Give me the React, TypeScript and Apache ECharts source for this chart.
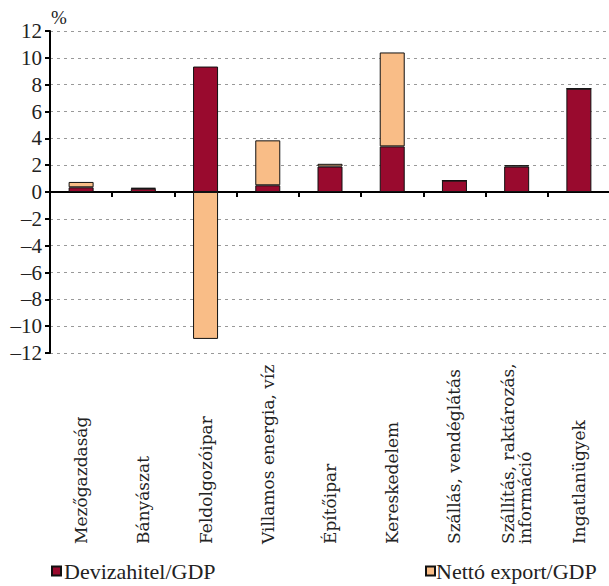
import React, { useEffect, useRef } from "react";
import * as echarts from "echarts";

const categories = [
  "Mezőgazdaság",
  "Bányászat",
  "Feldolgozóipar",
  "Villamos energia, víz",
  "Építőipar",
  "Kereskedelem",
  "Szállás, vendéglátás",
  "Szállítás, raktározás,\ninformáció",
  "Ingatlanügyek",
];
const devizahitel = [0.35, 0.25, 9.35, 0.5, 1.9, 3.4, 0.85, 1.9, 7.7];
const nettoExport = [0.4, 0.05, -10.95, 3.35, 0.2, 7.0, 0.0, 0.1, 0.0];
const yTicks = { min: -12, max: 12, interval: 2 };

const FONT = "'Liberation Serif', 'DejaVu Serif', serif";
const LABEL_FONT = "'DejaVu Serif', 'Liberation Serif', serif";
const DARK = "#990A2E";
const LIGHT = "#F9BD87";

export default function App() {
  const ref = useRef<HTMLDivElement>(null);
  useEffect(() => {
    if (!ref.current) return;
    const chart = echarts.init(ref.current, undefined, { renderer: "svg" });
    chart.setOption({
      animation: false,
      textStyle: { fontFamily: FONT, color: "#222" },
      grid: {
        left: 50,
        width: 560,
        top: 31,
        bottom: 233,
        containLabel: false,
        outerBoundsMode: "none",
      },
      legend: [
        {
          data: ["Devizahitel/GDP"],
          left: 46,
          top: 557,
          padding: [2, 5, 2, 5],
          icon: "rect",
          itemWidth: 9,
          itemHeight: 9,
          textStyle: { fontFamily: FONT, fontSize: 22, lineHeight: 24, color: "#222", padding: [0, 0, 0, -2] },
        },
        {
          data: ["Nettó export/GDP"],
          left: 420,
          top: 557,
          padding: [2, 5, 2, 5],
          icon: "rect",
          itemWidth: 9,
          itemHeight: 9,
          textStyle: { fontFamily: FONT, fontSize: 22, lineHeight: 24, color: "#222", padding: [0, 0, 0, -4] },
        },
      ],
      graphic: [
        {
          type: "text",
          left: 51,
          top: 8,
          style: { text: "%", font: `19px ${FONT}`, fill: "#222" },
        },
      ],
      xAxis: {
        type: "category",
        data: categories,
        axisLine: { onZero: true, lineStyle: { color: "#000", width: 2 } },
        axisTick: { show: true, interval: 0, length: 5, lineStyle: { color: "#000", width: 2 } },
        axisLabel: {
          show: true,
          interval: 0,
          rotate: 90,
          align: "left",
          verticalAlign: "middle",
          margin: 191,
          fontFamily: LABEL_FONT,
          fontSize: 17,
          lineHeight: 17,
          color: "#222",
        },
      },
      yAxis: {
        type: "value",
        min: yTicks.min,
        max: yTicks.max,
        interval: yTicks.interval,
        axisLine: { show: true, lineStyle: { color: "#000", width: 2 } },
        axisTick: { show: true, length: 5, lineStyle: { color: "#000", width: 2 } },
        axisLabel: {
          fontFamily: FONT,
          fontSize: 21,
          color: "#222",
          margin: 8,
          formatter: (v: number) => String(v).replace("-", "\u2013"),
        },
        splitLine: { show: true, lineStyle: { color: "#999", type: [3, 4], width: 1 } },
      },
      series: [
        {
          name: "Devizahitel/GDP",
          type: "bar",
          stack: "total",
          barWidth: 25,
          data: devizahitel,
          itemStyle: { color: DARK, borderColor: "#111", borderWidth: 1 },
        },
        {
          name: "Nettó export/GDP",
          type: "bar",
          stack: "total",
          barWidth: 25,
          data: nettoExport,
          itemStyle: { color: LIGHT, borderColor: "#111", borderWidth: 1 },
        },
      ],
    });
    return () => chart.dispose();
  }, []);
  return <div ref={ref} style={{ width: 609, height: 586, position: "absolute", left: 0, top: 0 }} />;
}
